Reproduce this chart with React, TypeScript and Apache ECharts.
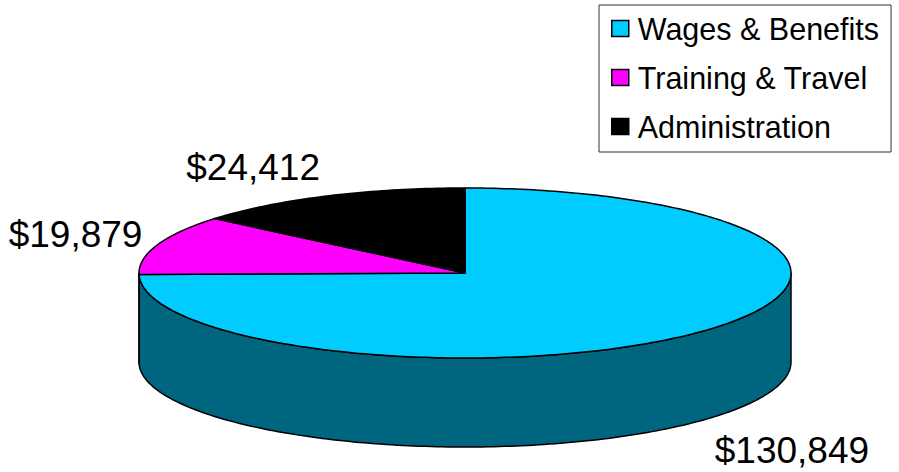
import React, { useEffect, useRef } from "react";
import * as echarts from "echarts";

const categories = ["Wages & Benefits", "Training & Travel", "Administration"];
const values = [130849, 19879, 24412];
const topColors = ["#00CCFF", "#FF00FF", "#000000"];
const sideColors = ["#006680", "#800080", "#000000"];

const CX = 465;
const CY = 273;
const RX = 326;
const RY = 85;
const DEPTH = 89;
const FONT = "'Liberation Sans', Arial, Helvetica, sans-serif";

function pt(theta: number, dy: number): number[] {
  const r = (theta * Math.PI) / 180;
  return [CX + RX * Math.sin(r), CY - RY * Math.cos(r) + dy];
}

function arc(a: number, b: number, dy: number): number[][] {
  const n = Math.max(2, Math.ceil(Math.abs(b - a)));
  const out: number[][] = [];
  for (let i = 0; i <= n; i++) out.push(pt(a + ((b - a) * i) / n, dy));
  return out;
}

const fmt = (v: number) => "$" + v.toLocaleString("en-US");

export default function App() {
  const ref = useRef<HTMLDivElement>(null);
  useEffect(() => {
    if (!ref.current) return;
    const chart = echarts.init(ref.current, null, { renderer: "svg" });
    const total = values.reduce((s, v) => s + v, 0);
    const starts: number[] = [];
    let acc = 0;
    values.forEach((v) => {
      starts.push((acc / total) * 360);
      acc += v;
    });

    const series = categories.map((name, i) => ({
      type: "custom",
      name,
      coordinateSystem: "none",
      itemStyle: { color: topColors[i] },
      data: [{ name, value: values[i] }],
      renderItem: (params: any, api: any) => {
        const v = api.value(0) as number;
        const a = starts[i];
        const b = a + (v / total) * 360;
        const children: any[] = [];
        const s = Math.max(a, 90);
        const e = Math.min(b, 270);
        if (e > s) {
          const top = arc(s, e, 0);
          const bottom = arc(s, e, DEPTH).reverse();
          children.push({
            type: "polygon",
            z2: 1,
            shape: { points: top.concat(bottom) },
            style: { fill: sideColors[i], stroke: "#000", lineWidth: 1.5, lineJoin: "round" },
          });
        }
        children.push({
          type: "polygon",
          z2: 5,
          shape: { points: [[CX, CY]].concat(arc(a, b, 0)) },
          style: { fill: topColors[i], stroke: "#000", lineWidth: 1.5, lineJoin: "round" },
        });
        const mid = (a + b) / 2;
        const r = (mid * Math.PI) / 180;
        const sn = Math.sin(r);
        const cs = Math.cos(r);
        const front = cs < 0;
        const anchor = pt(mid, front ? DEPTH : 0);
        children.push({
          type: "text",
          z2: 10,
          x: anchor[0] + sn * (sn < 0 ? 16 : 24),
          y: anchor[1] - cs * (front ? 42 : 32),
          style: {
            text: fmt(v),
            fill: "#000",
            fontSize: 37,
            fontFamily: FONT,
            align: sn < 0 ? "right" : "left",
            verticalAlign: "middle",
          },
        });
        return { type: "group", children };
      },
    }));

    chart.setOption({
      animation: false,
      backgroundColor: "#ffffff",
      legend: {
        orient: "vertical",
        left: 599,
        top: 5,
        data: categories,
        selectedMode: false,
        icon: "rect",
        itemWidth: 17,
        itemHeight: 16,
        itemGap: 18,
        padding: [8, 12, 10, 12],
        borderColor: "#333",
        borderWidth: 1,
        backgroundColor: "#fff",
        itemStyle: { borderColor: "#000", borderWidth: 1.5 },
        textStyle: {
          fontSize: 30.5,
          fontFamily: FONT,
          color: "#000",
          lineHeight: 30,
          padding: [0, 0, 0, 4],
        },
      },
      series,
    } as any);
    return () => chart.dispose();
  }, []);
  return (
    <div
      ref={ref}
      style={{ position: "absolute", left: 0, top: 0, width: 899, height: 472, background: "#fff" }}
    />
  );
}
